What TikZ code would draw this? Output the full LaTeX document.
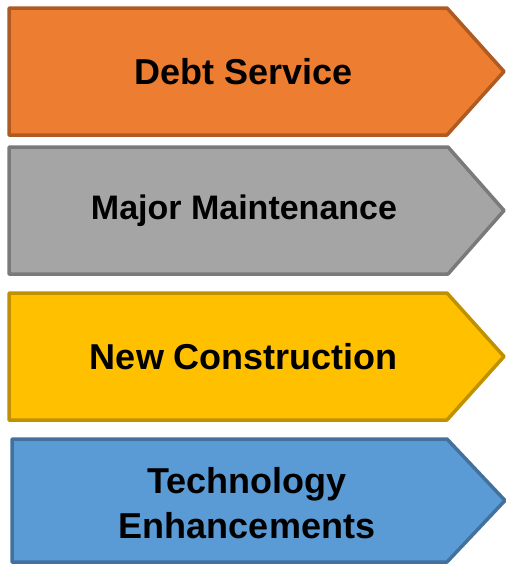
\documentclass[tikz,border=0pt]{standalone}
\usepackage{fontspec}
\setmainfont{Liberation Sans}
\definecolor{orfill}{HTML}{ED7D31}
\definecolor{ordraw}{HTML}{AE5A21}
\definecolor{grfill}{HTML}{A5A5A5}
\definecolor{grdraw}{HTML}{7A7A7A}
\definecolor{gofill}{HTML}{FFC000}
\definecolor{godraw}{HTML}{BF9000}
\definecolor{blfill}{HTML}{5B9BD5}
\definecolor{bldraw}{HTML}{41719C}
\tikzset{
  arrowbox/.style={line width=3.5pt, line join=round},
  lbl/.style={font=\fontsize{36}{45}\selectfont\bfseries, align=center, inner sep=0pt, text=black},
}
\begin{document}
\begin{tikzpicture}[x=1pt,y=-1pt]
\useasboundingbox (0,0) rectangle (506,566);
% Debt Service
\draw[arrowbox, fill=orfill, draw=ordraw] (9,8) -- (447,8) -- (504,71.5) -- (447,135) -- (9,135) -- cycle;
\node[lbl] (debt) at (244,71.5) {Debt Service};
% Major Maintenance
\draw[arrowbox, fill=grfill, draw=grdraw] (9,147) -- (448,147) -- (504,210.5) -- (448,274) -- (9,274) -- cycle;
\node[lbl, font=\fontsize{34}{42}\selectfont\bfseries] (maint) at (244,211) {Major Maintenance};
% New Construction
\draw[arrowbox, fill=gofill, draw=godraw] (9,293) -- (447,293) -- (504,356.5) -- (447,420) -- (9,420) -- cycle;
\node[lbl] (constr) at (244,357) {New Construction};
% Technology Enhancements
\draw[arrowbox, fill=blfill, draw=bldraw] (12,439) -- (447,439) -- (505,500.5) -- (447,562) -- (12,562) -- cycle;
\node[lbl] (tech) at (247,503) {Technology\\Enhancements};
\end{tikzpicture}
\end{document}
